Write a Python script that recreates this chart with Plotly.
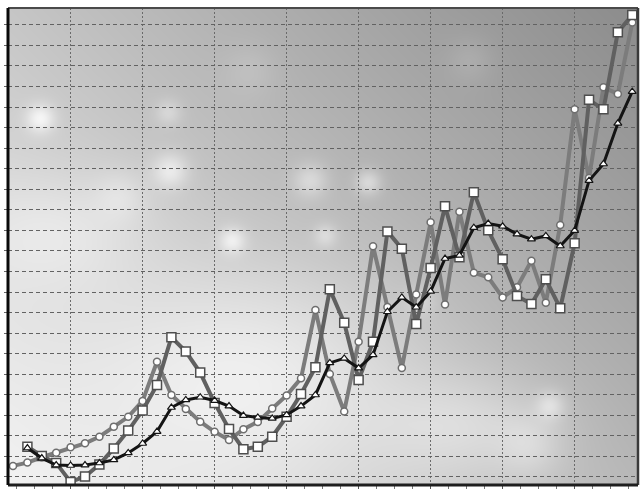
import base64, zlib, struct
import numpy as np
import plotly.graph_objects as go

# ---- data (grid units) ----
x_index = list(range(44))
circles = [0.54, 0.70, 0.96, 1.18, 1.45, 1.64, 1.96, 2.45, 2.93, 3.70,
           5.61, 3.99, 3.31, 2.69, 2.20, 1.80, 2.32, 2.68, 3.33, 3.97,
           4.80, 8.13, 5.01, 3.19, 6.58, 11.23, 8.27, 5.30, 8.88, 12.39,
           8.39, 12.91, 9.94, 9.72, 8.73, 9.23, 10.52, 8.48, 12.26, 17.89,
           14.55, 18.96, 18.64, 22.11]
squares = [None, 1.47, 1.02, 0.68, -0.24, 0.02, 0.61, 1.39, 2.26, 3.24,
           4.48, 6.80, 6.10, 5.08, 3.60, 2.34, 1.35, 1.47, 1.96, 2.93,
           4.04, 5.34, 9.13, 7.51, 4.72, 6.58, 11.95, 11.11, 7.44, 10.17,
           13.17, 10.69, 13.86, 12.00, 10.60, 8.81, 8.42, 9.62, 8.21, 11.37,
           18.35, 17.89, 21.64, 22.48]
triangles = [None, 1.41, 0.92, 0.58, 0.56, 0.58, 0.68, 0.83, 1.17, 1.63,
             2.21, 3.38, 3.75, 3.88, 3.72, 3.45, 2.99, 2.90, 2.85, 3.02,
             3.45, 3.99, 5.55, 5.77, 5.30, 5.94, 8.04, 8.74, 8.26, 9.03,
             10.63, 10.78, 12.13, 12.33, 12.20, 11.82, 11.57, 11.73, 11.24, 11.99,
             14.42, 15.23, 17.21, 18.75]

# ---- decorative background (gradient + soft bokeh) ----
W, H = 630, 477
X0, Y0 = 8, 8
cols = np.arange(W)[None, :] + X0
rows = np.arange(H)[:, None] + Y0
u = (cols - X0) / (W - 1)
w = (rows - Y0) / (H - 1)
TL, TR, BL, BR = 198, 140, 242, 184
img = TL * (1 - u) * (1 - w) + TR * u * (1 - w) + BL * (1 - u) * w + BR * u * w

def glow(cx, cy, sx, sy, amp):
    return amp * np.exp(-(((cols - cx) / sx) ** 2 + ((rows - cy) / sy) ** 2) / 2)

img = img + glow(270, 370, 110, 75, 30) + glow(60, 230, 60, 40, 18) + glow(470, 425, 60, 35, 22)
spots = [(40, 118, 10, 40), (168, 112, 9, 22), (170, 170, 12, 35), (232, 240, 9, 35),
         (310, 180, 12, 30), (368, 182, 9, 35), (325, 235, 8, 25), (120, 195, 18, 15),
         (550, 405, 10, 30), (420, 300, 10, 18), (530, 445, 22, 18), (470, 60, 16, 12),
         (250, 70, 18, 10)]
for cx, cy, r, a in spots:
    img = img + glow(cx, cy, r, r, a)
img = np.clip(img, 0, 255).astype(np.uint8)

def png_gray(arr):
    h, wd = arr.shape
    raw = b''.join(b'\x00' + arr[r].tobytes() for r in range(h))
    def chunk(t, d):
        c = struct.pack('>I', len(d)) + t + d
        return c + struct.pack('>I', zlib.crc32(t + d) & 0xffffffff)
    ihdr = struct.pack('>IIBBBBB', wd, h, 8, 0, 0, 0, 0)
    return (b'\x89PNG\r\n\x1a\n' + chunk(b'IHDR', ihdr) +
            chunk(b'IDAT', zlib.compress(raw, 9)) + chunk(b'IEND', b''))

bg_src = 'data:image/png;base64,' + base64.b64encode(png_gray(img)).decode()

fig = go.Figure()
fig.add_trace(go.Scatter(
    x=x_index, y=circles, mode='lines+markers', name='circles',
    line=dict(color='#7c7c7c', width=4),
    marker=dict(symbol='circle', size=7, color='white', line=dict(color='#6e6e6e', width=1.5))))
fig.add_trace(go.Scatter(
    x=x_index, y=squares, mode='lines+markers', name='squares',
    line=dict(color='#606060', width=4),
    marker=dict(symbol='square', size=9, color='white', line=dict(color='#4e4e4e', width=1.5))))
fig.add_trace(go.Scatter(
    x=x_index, y=triangles, mode='lines+markers', name='triangles',
    line=dict(color='#141414', width=3),
    marker=dict(symbol='triangle-up', size=7, color='white', line=dict(color='#141414', width=1.2))))

fig.update_layout(
    width=641, height=491,
    margin=dict(l=8, r=3, t=8, b=6),
    paper_bgcolor='white', plot_bgcolor='rgba(0,0,0,0)',
    showlegend=False,
    images=[dict(source=bg_src, xref='paper', yref='paper', x=0, y=1,
                 sizex=1, sizey=1, sizing='stretch', layer='below')],
    xaxis=dict(range=[-0.347, 43.40], tick0=4, dtick=5, showticklabels=False,
               showgrid=True, gridcolor='#6a6a6a', gridwidth=1, griddash='2px,2px',
               zeroline=False, ticks='outside', ticklen=3, tickcolor='#555',
               minor=dict(tick0=4, dtick=1.25, ticks='outside', ticklen=3, tickcolor='#777', showgrid=False)),
    yaxis=dict(range=[-0.39, 22.82], tick0=0, dtick=1, showticklabels=False,
               showgrid=True, gridcolor='#626262', gridwidth=1, griddash='4px,3px',
               zeroline=False, ticks='outside', ticklen=3, tickcolor='#666'),
    shapes=[
        dict(type='line', xref='paper', yref='paper', x0=0, x1=1, y0=1, y1=1, line=dict(color='#4a4a4a', width=2)),
        dict(type='line', xref='paper', yref='paper', x0=1, x1=1, y0=0, y1=1, line=dict(color='#3a3a3a', width=2.5)),
        dict(type='line', xref='paper', yref='paper', x0=0, x1=1, y0=0, y1=0, line=dict(color='#1e1e1e', width=3)),
        dict(type='line', xref='paper', yref='paper', x0=0, x1=0, y0=0, y1=1, line=dict(color='#0a0a0a', width=3)),
    ],
)
fig.write_html('out.html')
